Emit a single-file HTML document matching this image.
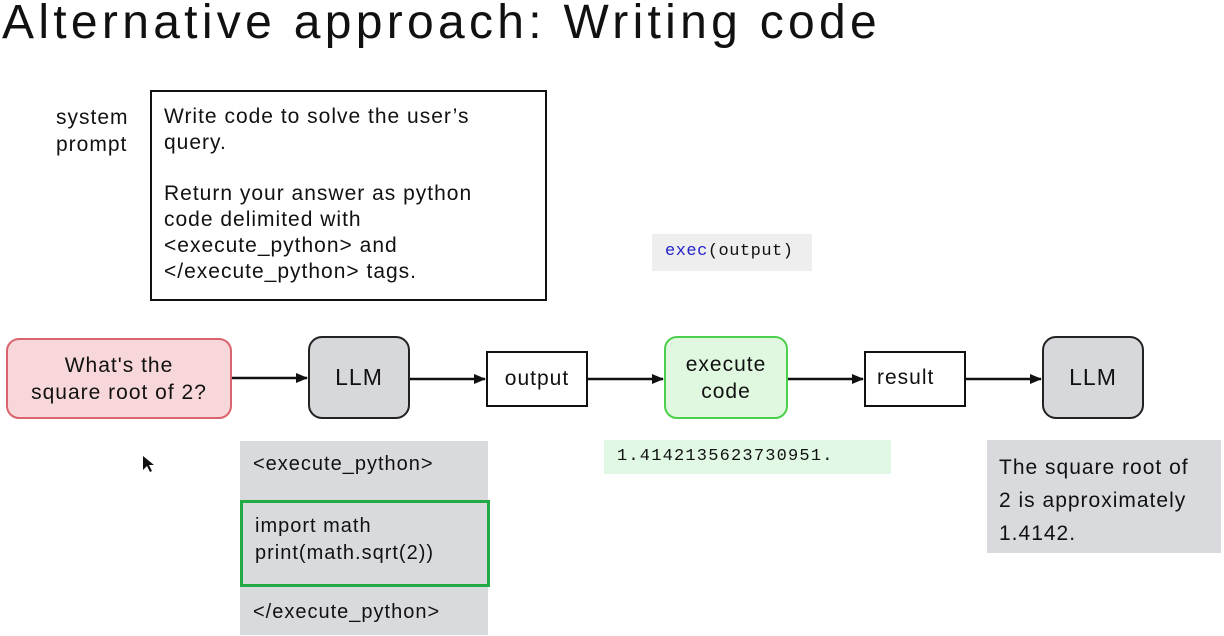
<!DOCTYPE html>
<html><head><style>
body{margin:0;width:1224px;height:636px;background:#fff;position:relative;overflow:hidden;font-family:"Liberation Sans",sans-serif;color:#111;letter-spacing:1px}
div{position:absolute;box-sizing:border-box}
.c{display:flex;align-items:center;justify-content:center;text-align:center}
.mono{font-family:"Liberation Mono",monospace}
</style></head><body>
<div style="left:2px;top:-5px;font-size:48px;letter-spacing:4.3px;white-space:nowrap">Alternative approach: Writing code</div>
<div style="left:56px;top:104px;font-size:21px;line-height:27px">system<br>prompt</div>
<div style="left:150px;top:90px;width:397px;height:211px;border:2px solid #111;padding:12px 0 0 12px;font-size:21px;line-height:26px;white-space:nowrap">Write code to solve the user’s<br>query.<br><div style="position:static;height:25px"></div>Return your answer as python<br>code delimited with<br>&lt;execute_python&gt; and<br>&lt;/execute_python&gt; tags.</div>
<div class="mono" style="left:652px;top:234px;width:160px;height:37px;background:#eeeeee;font-size:17px;padding:8px 0 0 13px;letter-spacing:0.5px"><span style="color:#2222cc">exec</span>(output)</div>
<svg style="position:absolute;left:0;top:0" width="1224" height="636">
<defs><marker id="a" markerWidth="12" markerHeight="12" refX="11" refY="6" orient="auto" markerUnits="userSpaceOnUse"><path d="M0,1L12,6L0,11z" fill="#111"/></marker></defs>
<g stroke="#111" stroke-width="2.5" marker-end="url(#a)">
<line x1="231" y1="378" x2="307" y2="378"/>
<line x1="409" y1="379" x2="485" y2="379"/>
<line x1="587" y1="379" x2="663" y2="379"/>
<line x1="787" y1="379" x2="863" y2="379"/>
<line x1="965" y1="379" x2="1041" y2="379"/>
</g>
<path d="M143,456 L143,470 L147,466 L150,472 L152,471 L149,465 L154,465 Z" fill="#111"/>
</svg>
<div class="c" style="left:6px;top:338px;width:226px;height:81px;background:#f8d7da;border:2px solid #d9646e;border-radius:13px;font-size:21px;line-height:27px">What's the<br>square root of 2?</div>
<div class="c" style="left:308px;top:336px;width:102px;height:83px;background:#d7d8dc;border:2px solid #222;border-radius:14px;font-size:23px">LLM</div>
<div class="c" style="left:486px;top:351px;width:102px;height:56px;border:2px solid #111;font-size:21px">output</div>
<div class="c" style="left:664px;top:336px;width:124px;height:83px;background:#e0f8e0;border:2px solid #4cd04c;border-radius:13px;font-size:21px;line-height:27px">execute<br>code</div>
<div style="left:864px;top:351px;width:102px;height:56px;border:2px solid #111;font-size:21px;padding:13px 0 0 11px">result</div>
<div class="c" style="left:1042px;top:336px;width:102px;height:83px;background:#d7d8dc;border:2px solid #222;border-radius:14px;font-size:23px">LLM</div>
<div style="left:240px;top:441px;width:248px;height:194px;background:#d9dadd"></div>
<div style="left:253px;top:453px;font-size:20px">&lt;execute_python&gt;</div>
<div style="left:240px;top:500px;width:250px;height:87px;border:3px solid #22aa44;padding:10px 0 0 12px;font-size:20px;line-height:27px">import math<br>print(math.sqrt(2))</div>
<div style="left:253px;top:601px;font-size:20px">&lt;/execute_python&gt;</div>
<div class="mono" style="left:604px;top:440px;width:287px;height:34px;background:#e0f8e4;font-size:17px;padding:7px 0 0 13px;letter-spacing:1.2px">1.4142135623730951.</div>
<div style="left:987px;top:440px;width:234px;height:113px;background:#d9dadd;padding:11px 0 0 12px;font-size:21px;line-height:33px;white-space:nowrap">The square root of<br>2 is approximately<br>1.4142.</div>
</body></html>
